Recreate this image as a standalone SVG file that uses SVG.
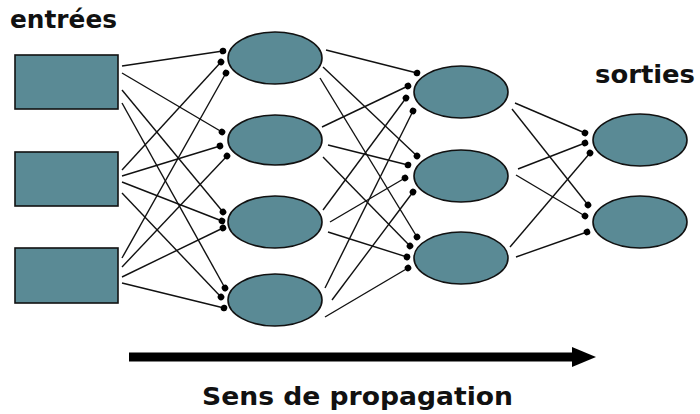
<svg xmlns="http://www.w3.org/2000/svg" width="700" height="414" viewBox="0 0 700 414">
<style>
.node{fill:#5a8a95;stroke:#111;stroke-width:1.6}
.lbl{font-family:"DejaVu Sans",sans-serif;font-weight:bold;font-size:24px;fill:#111}
.c line{stroke:#111;stroke-width:1.4;marker-end:url(#dot)}
</style>
<defs>
<marker id="dot" markerUnits="userSpaceOnUse" markerWidth="8" markerHeight="8" refX="4" refY="4" viewBox="0 0 8 8" orient="auto">
<circle cx="4" cy="4" r="3.3" fill="#000"/>
</marker>
<marker id="head" markerUnits="userSpaceOnUse" markerWidth="24" markerHeight="20" refX="0" refY="10" viewBox="0 0 24 20" orient="auto">
<path d="M0,0 L24,10 L0,20 Z" fill="#000"/>
</marker>
</defs>
<rect width="700" height="414" fill="#fff"/>
<g class="c" id="connectors">
<!-- inputs to hidden 1 -->
<line x1="122" y1="66" x2="223" y2="51"/>
<line x1="122" y1="73" x2="222" y2="132"/>
<line x1="122" y1="90" x2="223" y2="212"/>
<line x1="122" y1="103" x2="225" y2="288"/>
<line x1="122" y1="170" x2="221" y2="62"/>
<line x1="122" y1="176" x2="220" y2="146"/>
<line x1="122" y1="182" x2="222" y2="221"/>
<line x1="122" y1="193" x2="221" y2="297"/>
<line x1="122" y1="258" x2="226" y2="73"/>
<line x1="122" y1="267" x2="227" y2="156"/>
<line x1="122" y1="277" x2="223" y2="228"/>
<line x1="122" y1="283" x2="224" y2="308"/>
<!-- hidden 1 to hidden 2 -->
<line x1="326" y1="50" x2="417" y2="73"/>
<line x1="323" y1="67" x2="417" y2="156"/>
<line x1="320" y1="78" x2="417" y2="237"/>
<line x1="322" y1="127" x2="408" y2="86"/>
<line x1="328" y1="145" x2="408" y2="165"/>
<line x1="323" y1="157" x2="410" y2="246"/>
<line x1="323" y1="210" x2="406" y2="98"/>
<line x1="330" y1="222" x2="405" y2="178"/>
<line x1="328" y1="232" x2="407" y2="257"/>
<line x1="325" y1="288" x2="413" y2="111"/>
<line x1="332" y1="300" x2="413" y2="192"/>
<line x1="325" y1="317" x2="408" y2="268"/>
<!-- hidden 2 to outputs -->
<line x1="515" y1="103" x2="585" y2="133"/>
<line x1="512" y1="109" x2="588" y2="205"/>
<line x1="518" y1="169" x2="585" y2="143"/>
<line x1="516" y1="175" x2="585" y2="216"/>
<line x1="510" y1="247" x2="590" y2="153"/>
<line x1="516" y1="257" x2="587" y2="232"/>
</g>
<g id="in1"><rect class="node" x="15" y="55" width="103" height="54"/></g>
<g id="in2"><rect class="node" x="15" y="152" width="103" height="54"/></g>
<g id="in3"><rect class="node" x="15" y="248" width="103" height="55"/></g>
<g id="h1a"><ellipse class="node" cx="275" cy="58" rx="47" ry="26"/></g>
<g id="h1b"><ellipse class="node" cx="275" cy="140" rx="47" ry="25"/></g>
<g id="h1c"><ellipse class="node" cx="275" cy="222" rx="47" ry="26"/></g>
<g id="h1d"><ellipse class="node" cx="275" cy="300" rx="47" ry="26"/></g>
<g id="h2a"><ellipse class="node" cx="461" cy="92" rx="47" ry="26"/></g>
<g id="h2b"><ellipse class="node" cx="461" cy="176" rx="47" ry="26"/></g>
<g id="h2c"><ellipse class="node" cx="461" cy="258" rx="47" ry="26"/></g>
<g id="out1"><ellipse class="node" cx="640" cy="140" rx="47" ry="26"/></g>
<g id="out2"><ellipse class="node" cx="640" cy="222" rx="47" ry="26"/></g>
<g id="labels">
<text class="lbl" x="10" y="28" textLength="107" lengthAdjust="spacingAndGlyphs">entrées</text>
<text class="lbl" x="595" y="83" textLength="100" lengthAdjust="spacingAndGlyphs">sorties</text>
<text class="lbl" x="202" y="405" textLength="311" lengthAdjust="spacingAndGlyphs">Sens de propagation</text>
</g>
<g id="arrow">
<line x1="129" y1="357" x2="572" y2="357" stroke="#000" stroke-width="9" marker-end="url(#head)"/>
</g>
</svg>
